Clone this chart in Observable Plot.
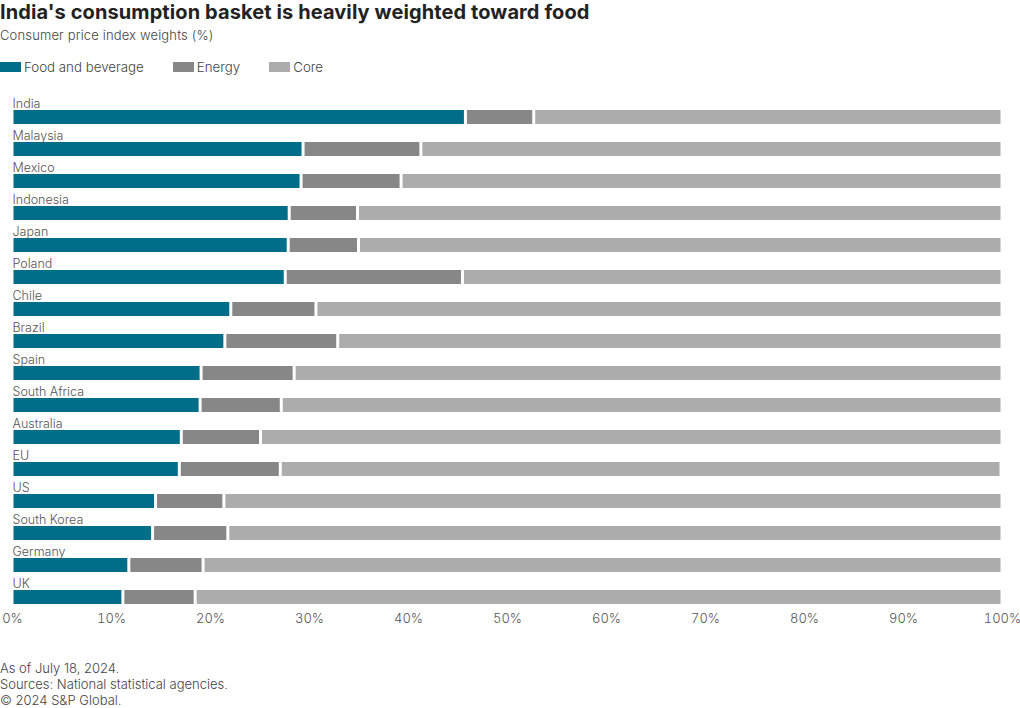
<!DOCTYPE html>
<html>
<head>
<meta charset="utf-8">
<script src="https://cdn.jsdelivr.net/npm/d3@7"></script>
<script src="https://cdn.jsdelivr.net/npm/@observablehq/plot@0.6"></script>
<style>
  body { margin: 0; background: #fff; font-family: Inter, "Noto Sans", sans-serif; color: #444; }
  #wrap { width: 1020px; height: 708px; position: relative; }
  h1 { margin: 0; position: absolute; left: 0; top: 0; font-size: 20px; font-weight: 700; color: #222; letter-spacing: 0.1px; }
  .sub { position: absolute; left: 0; top: 27px; font-size: 13px; font-weight: 300; color: #444; letter-spacing: 0.15px; }
  .legend { position: absolute; left: 0; top: 59px; display: flex; font-size: 13.3px; font-weight: 300; color: #444; }
  .legend span.item { display: flex; align-items: center; margin-right: 29px; }
  .legend span.sw { display: inline-block; width: 21px; height: 10px; margin-right: 3px; }
  #chart { position: absolute; left: 0; top: 88px; }
  .foot { position: absolute; left: 0; top: 660px; font-size: 13px; font-weight: 300; line-height: 16px; color: #444; }
</style>
</head>
<body>
<div id="wrap">
  <h1>India's consumption basket is heavily weighted toward food</h1>
  <div class="sub">Consumer price index weights (%)</div>
  <div class="legend" id="legend"></div>
  <div id="chart"></div>
  <div class="foot">As of July 18, 2024.<br>Sources: National statistical agencies.<br>© 2024 S&amp;P Global.</div>
</div>
<script>
const countries = ["India","Malaysia","Mexico","Indonesia","Japan","Poland","Chile","Brazil","Spain","South Africa","Australia","EU","US","South Korea","Germany","UK"];
const food   = [45.8, 29.4, 29.2, 28.0, 27.9, 27.6, 22.1, 21.5, 19.1, 19.0, 17.1, 16.9, 14.5, 14.2, 11.8, 11.2];
const energy = [ 6.9, 11.9, 10.1,  6.9,  7.1, 17.9,  8.6, 11.4,  9.4,  8.2,  8.0, 10.2,  6.9,  7.6,  7.5,  7.3];
const core   = [47.3, 58.7, 60.7, 65.1, 65.0, 54.5, 69.3, 67.1, 71.5, 72.8, 74.9, 72.8, 78.6, 78.2, 80.7, 81.5];
const series = ["Food and beverage", "Energy", "Core"];
const colors = ["#006e89", "#878787", "#acacac"];
const xTicks = [0, 10, 20, 30, 40, 50, 60, 70, 80, 90, 100];

const rows = [];
countries.forEach((c, i) => {
  [food, energy, core].forEach((arr, j) => rows.push({country: c, series: series[j], value: arr[i], order: j}));
});

const legend = document.getElementById("legend");
series.forEach((s, j) => {
  const it = document.createElement("span");
  it.className = "item";
  it.innerHTML = `<span class="sw" style="background:${colors[j]}"></span>${s}`;
  legend.appendChild(it);
});

const chart = Plot.plot({
  width: 1020,
  height: 552,
  marginTop: 10,
  marginBottom: 30,
  marginLeft: 12,
  marginRight: 18,
  style: {fontFamily: "Inter, 'Noto Sans', sans-serif", fontSize: "13px", color: "#555", fontWeight: 300},
  x: {domain: [0, 100], ticks: xTicks, tickFormat: d => d + "%", tickSize: 0, tickPadding: 3, label: null},
  y: {domain: countries, padding: 0, axis: null},
  color: {domain: series, range: colors},
  marks: [
    Plot.barX(rows, Plot.stackX({
      x: "value", y: "country", fill: "series", order: series,
      insetTop: 12, insetBottom: 6, insetLeft: 1.5, insetRight: 1.5
    })),
    Plot.text(countries, {x: 0, y: d => d, text: d => d, textAnchor: "start", dy: -11, fill: "#555", fontSize: 12.5})
  ]
});
document.getElementById("chart").appendChild(chart);
</script>
</body>
</html>
